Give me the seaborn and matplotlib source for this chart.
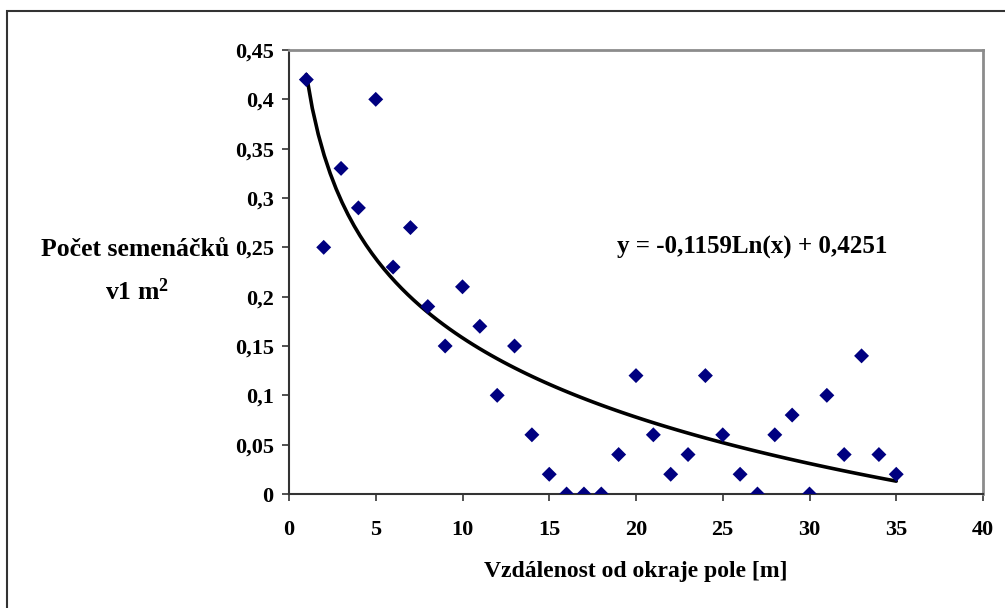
import numpy as np
import pandas as pd
import matplotlib
matplotlib.use("Agg")
import matplotlib.pyplot as plt
from matplotlib.ticker import FuncFormatter, MultipleLocator
from matplotlib.patches import Rectangle
import seaborn as sns

# vzdálenost od okraje pole [m] a počet semenáčků na 1 m2
distance = list(range(1, 36))
seedlings = [0.42, 0.25, 0.33, 0.29, 0.40, 0.23, 0.27, 0.19, 0.15, 0.21,
             0.17, 0.10, 0.15, 0.06, 0.02, 0.00, 0.00, 0.00, 0.04, 0.12,
             0.06, 0.02, 0.04, 0.12, 0.06, 0.02, 0.00, 0.06, 0.08, 0.00,
             0.10, 0.04, 0.14, 0.04, 0.02]
equation = "y = -0,1159Ln(x) + 0,4251"
x_label = "Vzdálenost od okraje pole [m]"
y_label = ["Počet semenáčků", r"v1 m$^{2}$"]

df = pd.DataFrame({"x": distance, "y": seedlings})

sns.set_style("white")
plt.rcParams["font.family"] = ["Liberation Serif", "DejaVu Serif"]
plt.rcParams["font.weight"] = "bold"
plt.rcParams["text.color"] = "black"
plt.rcParams["xtick.color"] = "black"
plt.rcParams["ytick.color"] = "black"
plt.rcParams["mathtext.fontset"] = "custom"
plt.rcParams["mathtext.rm"] = "Liberation Serif:bold"
plt.rcParams["mathtext.bf"] = "Liberation Serif:bold"
plt.rcParams["mathtext.it"] = "Liberation Serif:bold"
plt.rcParams["mathtext.default"] = "rm"

fig = plt.figure(figsize=(10.05, 6.08), dpi=100)
ax = fig.add_axes([289 / 1005, 1 - 494 / 608, (983 - 289) / 1005, (494 - 50) / 608])

sns.scatterplot(data=df, x="x", y="y", marker="D", s=58, color="#000080",
                edgecolor="none", ax=ax, zorder=3)
# logaritmický trend
sns.regplot(data=df, x="x", y="y", logx=True, ci=None, scatter=False,
            line_kws={"color": "black", "lw": 2.6}, ax=ax)

ax.set_xlim(0, 40)
ax.set_ylim(0, 0.45)
ax.xaxis.set_major_locator(MultipleLocator(5))
ax.yaxis.set_major_locator(MultipleLocator(0.05))
fmt = FuncFormatter(lambda v, p: f"{v:.2f}".rstrip("0").rstrip(",.").replace(".", ",") if v else "0")
ax.yaxis.set_major_formatter(fmt)
ax.set_xlabel("")
ax.set_ylabel("")
ax.tick_params(axis="both", direction="out", length=5, width=1.2, color="#333333",
               labelsize=16, labelcolor="black", bottom=True, left=True)
ax.tick_params(axis="y", pad=6)
ax.tick_params(axis="x", pad=14)
for lab in ax.get_xticklabels() + ax.get_yticklabels():
    lab.set_fontweight("bold")

for side in ["left", "bottom"]:
    ax.spines[side].set_color("#333333")
    ax.spines[side].set_linewidth(1.5)
for side in ["top", "right"]:
    ax.spines[side].set_color("#8c8c8c")
    ax.spines[side].set_linewidth(2)

fig.text(135 / 1005, 1 - 249 / 608, y_label[0], ha="center", va="center",
         fontsize=18.5, fontweight="bold")
fig.text(137 / 1005, 1 - 292 / 608, y_label[1], ha="center", va="center",
         fontsize=18.5, fontweight="bold")
fig.text(636 / 1005, 1 - 572 / 608, x_label, ha="center", va="center",
         fontsize=17, fontweight="bold")
ax.text(752 / 1005, 1 - 247 / 608, equation, transform=fig.transFigure,
        ha="center", va="center", fontsize=18, fontweight="bold")

# rámeček grafu
fig.add_artist(Rectangle((7 / 1005, -0.2), 1.2, 1.2 - 11 / 608,
                         transform=fig.transFigure, fill=False,
                         edgecolor="#333333", lw=1.5))

fig.savefig("out.png", dpi=100)
